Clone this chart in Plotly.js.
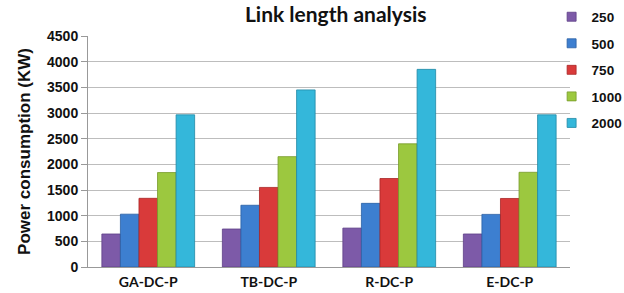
<!DOCTYPE html>
<html><head><meta charset="utf-8">
<script src="https://cdn.plot.ly/plotly-3.0.1.min.js"></script>
<style>html,body{margin:0;padding:0;background:#fff}#c{width:624px;height:293px}</style>
</head><body><div id="c"></div>
<script>
const categories = ["GA-DC-P", "TB-DC-P", "R-DC-P", "E-DC-P"];
const seriesNames = ["250", "500", "750", "1000", "2000"];
const s250 = [643, 740, 758, 643];
const s500 = [1029, 1203, 1240, 1025];
const s750 = [1338, 1550, 1724, 1335];
const s1000 = [1840, 2150, 2400, 1845];
const s2000 = [2965, 3450, 3850, 2965];
const colors = ["#7D5AA8", "#3D7FD0", "#D93A3A", "#9CC83F", "#34B7DA"];
const lines = ["#5E3F86", "#2A5FA3", "#A82626", "#779B2A", "#2289A6"];
const allSeries = [s250, s500, s750, s1000, s2000];
const ARIAL = "Arial, 'Liberation Sans', sans-serif";
const traces = allSeries.map((v, i) => ({
  type: "bar", x: categories, y: v, name: seriesNames[i], legendgroup: seriesNames[i], showlegend: false,
  marker: {color: colors[i], line: {color: lines[i], width: 0.8}}
}));
// legend entries (small square swatches) tied to each series
seriesNames.forEach((n, i) => traces.push({
  type: "scatter", mode: "markers", x: [null], y: [null], name: n, legendgroup: n,
  marker: {symbol: "square", size: 9, color: colors[i], line: {color: lines[i], width: 0.8}}
}));
const layout = {
  width: 624, height: 293,
  margin: {l: 88, r: 54, t: 36, b: 26, autoexpand: false},
  paper_bgcolor: "#fff", plot_bgcolor: "#fff",
  barmode: "group", bargap: 0.23, bargroupgap: 0,
  title: {text: "<b>Link length analysis</b>", x: 0.538, xanchor: "center", y: 0.975, yanchor: "top",
    font: {family: "Lato, 'Open Sans', sans-serif", size: 21, color: "#111"}},
  xaxis: {showgrid: false, showline: true, linecolor: "#999", linewidth: 1,
    ticks: "", ticklabelstandoff: 2,
    tickfont: {family: "Lato, sans-serif", size: 14, color: "#111", weight: "bold"}},
  yaxis: {range: [0, 4500], dtick: 500, showgrid: true, gridcolor: "#bdbdbd", gridwidth: 1,
    showline: true, linecolor: "#999", linewidth: 1, ticks: "outside", ticklen: 6, tickcolor: "#999",
    zeroline: false,
    tickfont: {family: ARIAL, size: 14, color: "#111", weight: "bold"},
    title: {text: "<b>Power consumption (KW)</b>", standoff: 12,
      font: {family: ARIAL, size: 17, color: "#111"}}},
  legend: {xref: "container", yref: "container", x: 0.884, xanchor: "left", y: 0.995, yanchor: "top",
    itemwidth: 30, tracegroupgap: 6, bgcolor: "rgba(0,0,0,0)",
    font: {family: ARIAL, size: 13.5, color: "#111", weight: "bold"}},
  showlegend: true
};
Plotly.newPlot("c", traces, layout, {displayModeBar: false, staticPlot: true});
</script></body></html>
